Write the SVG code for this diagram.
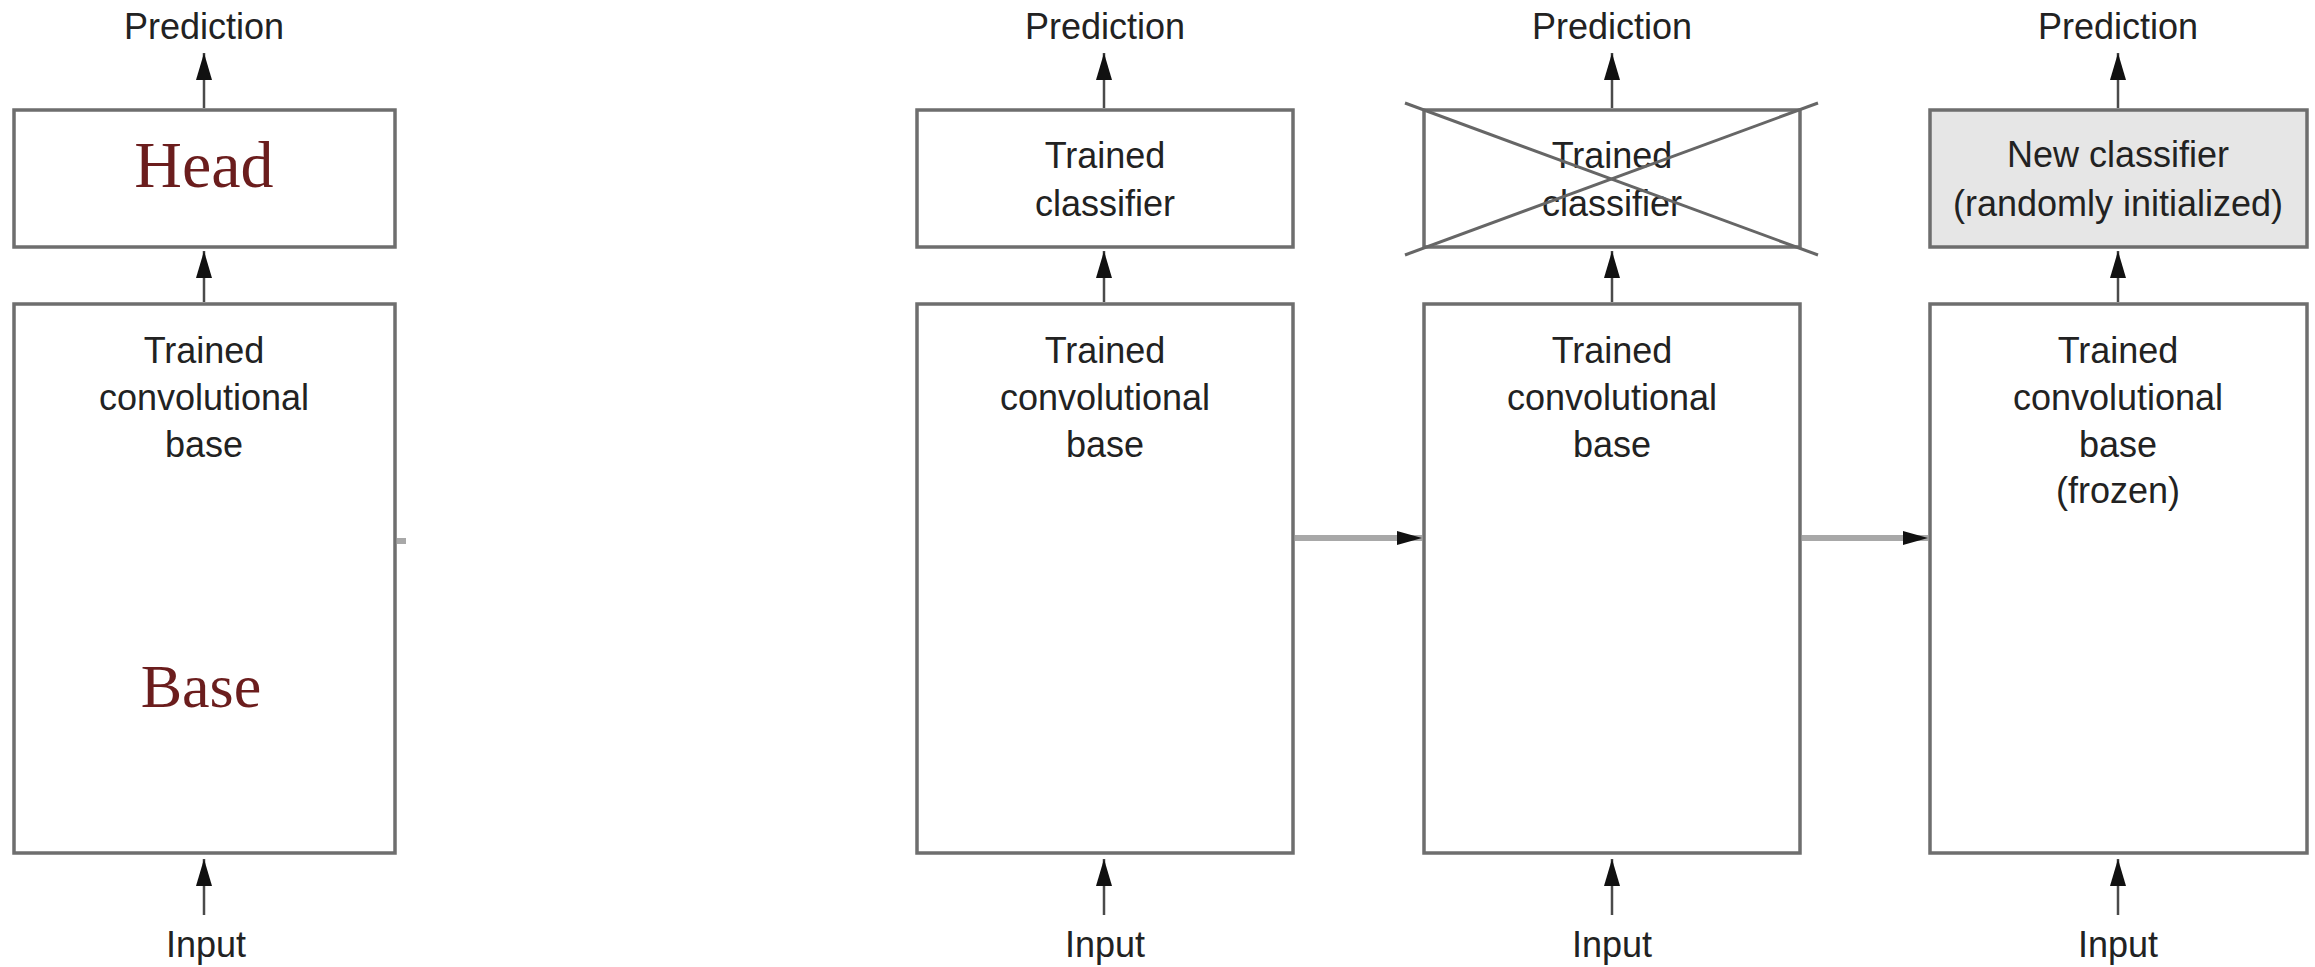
<svg xmlns="http://www.w3.org/2000/svg" width="2315" height="967" viewBox="0 0 2315 967">
<style>
.box{fill:#ffffff;stroke:#6e6e6e;stroke-width:3.5}
.newbox{fill:#e6e6e6;stroke:#6e6e6e;stroke-width:3.5}
.lbl{font-family:"Liberation Sans",Arial,sans-serif;font-size:36px;fill:#222222;text-anchor:middle}
.big{font-family:"Liberation Serif","Times New Roman",serif;fill:#6b1d1d;text-anchor:middle}
.v{stroke:#4a4a4a;stroke-width:2.5;fill:none}
.h{stroke:#a8a8a8;stroke-width:6;fill:none}
.cross{stroke:#666666;stroke-width:3}
</style>
<defs>
<marker id="ah" markerUnits="userSpaceOnUse" markerWidth="28" markerHeight="16" refX="27" refY="8" orient="auto">
<path d="M0,0 L27,8 L0,16 Z" fill="#111111"/>
</marker>
<marker id="ahs" markerUnits="userSpaceOnUse" markerWidth="26" markerHeight="18" refX="25" refY="9" orient="auto">
<path d="M0,2 L25,9 L0,16 Z" fill="#111111"/>
</marker>
</defs>
<rect width="2315" height="967" fill="#ffffff"/>

<g id="col1-prediction"><text class="lbl" x="204" y="39">Prediction</text></g>
<g id="col1-head"><rect class="box" x="14" y="110" width="381" height="137"/><text class="big" x="204" y="187" font-size="66">Head</text></g>
<g id="col1-base"><rect class="box" x="14" y="304" width="381" height="549"/>
<text class="lbl" x="204" y="363">Trained</text><text class="lbl" x="204" y="410">convolutional</text><text class="lbl" x="204" y="457">base</text>
<text class="big" x="201" y="707" font-size="62">Base</text></g>
<g id="col1-input"><text class="lbl" x="206" y="957">Input</text></g>

<g id="col2-prediction"><text class="lbl" x="1105" y="39">Prediction</text></g>
<g id="col2-head"><rect class="box" x="917" y="110" width="376" height="137"/>
<text class="lbl" x="1105" y="168">Trained</text><text class="lbl" x="1105" y="216">classifier</text></g>
<g id="col2-base"><rect class="box" x="917" y="304" width="376" height="549"/>
<text class="lbl" x="1105" y="363">Trained</text><text class="lbl" x="1105" y="410">convolutional</text><text class="lbl" x="1105" y="457">base</text></g>
<g id="col2-input"><text class="lbl" x="1105" y="957">Input</text></g>

<g id="col3-prediction"><text class="lbl" x="1612" y="39">Prediction</text></g>
<g id="col3-head"><rect class="box" x="1424" y="110" width="376" height="137"/>
<text class="lbl" x="1612" y="168">Trained</text><text class="lbl" x="1612" y="216">classifier</text>
<line class="cross" x1="1405" y1="103" x2="1818" y2="255"/><line class="cross" x1="1818" y1="103" x2="1405" y2="255"/></g>
<g id="col3-base"><rect class="box" x="1424" y="304" width="376" height="549"/>
<text class="lbl" x="1612" y="363">Trained</text><text class="lbl" x="1612" y="410">convolutional</text><text class="lbl" x="1612" y="457">base</text></g>
<g id="col3-input"><text class="lbl" x="1612" y="957">Input</text></g>

<g id="col4-prediction"><text class="lbl" x="2118" y="39">Prediction</text></g>
<g id="col4-head"><rect class="newbox" x="1930" y="110" width="377" height="137"/>
<text class="lbl" x="2118" y="167">New classifier</text><text class="lbl" x="2118" y="216">(randomly initialized)</text></g>
<g id="col4-base"><rect class="box" x="1930" y="304" width="377" height="549"/>
<text class="lbl" x="2118" y="363">Trained</text><text class="lbl" x="2118" y="410">convolutional</text><text class="lbl" x="2118" y="457">base</text><text class="lbl" x="2118" y="503">(frozen)</text></g>
<g id="col4-input"><text class="lbl" x="2118" y="957">Input</text></g>

<g id="connectors">
<line class="v" x1="204" y1="108" x2="204" y2="53" marker-end="url(#ah)"/>
<line class="v" x1="204" y1="302" x2="204" y2="251" marker-end="url(#ah)"/>
<line class="v" x1="204" y1="915" x2="204" y2="859" marker-end="url(#ah)"/>
<line class="v" x1="1104" y1="108" x2="1104" y2="53" marker-end="url(#ah)"/>
<line class="v" x1="1104" y1="302" x2="1104" y2="251" marker-end="url(#ah)"/>
<line class="v" x1="1104" y1="915" x2="1104" y2="859" marker-end="url(#ah)"/>
<line class="v" x1="1612" y1="108" x2="1612" y2="53" marker-end="url(#ah)"/>
<line class="v" x1="1612" y1="302" x2="1612" y2="251" marker-end="url(#ah)"/>
<line class="v" x1="1612" y1="915" x2="1612" y2="859" marker-end="url(#ah)"/>
<line class="v" x1="2118" y1="108" x2="2118" y2="53" marker-end="url(#ah)"/>
<line class="v" x1="2118" y1="302" x2="2118" y2="251" marker-end="url(#ah)"/>
<line class="v" x1="2118" y1="915" x2="2118" y2="859" marker-end="url(#ah)"/>
<line class="h" x1="397" y1="541" x2="406" y2="541" stroke-width="3"/>
<line class="h" x1="1295" y1="538" x2="1422" y2="538" marker-end="url(#ahs)"/>
<line class="h" x1="1802" y1="538" x2="1928" y2="538" marker-end="url(#ahs)"/>
</g>
</svg>
